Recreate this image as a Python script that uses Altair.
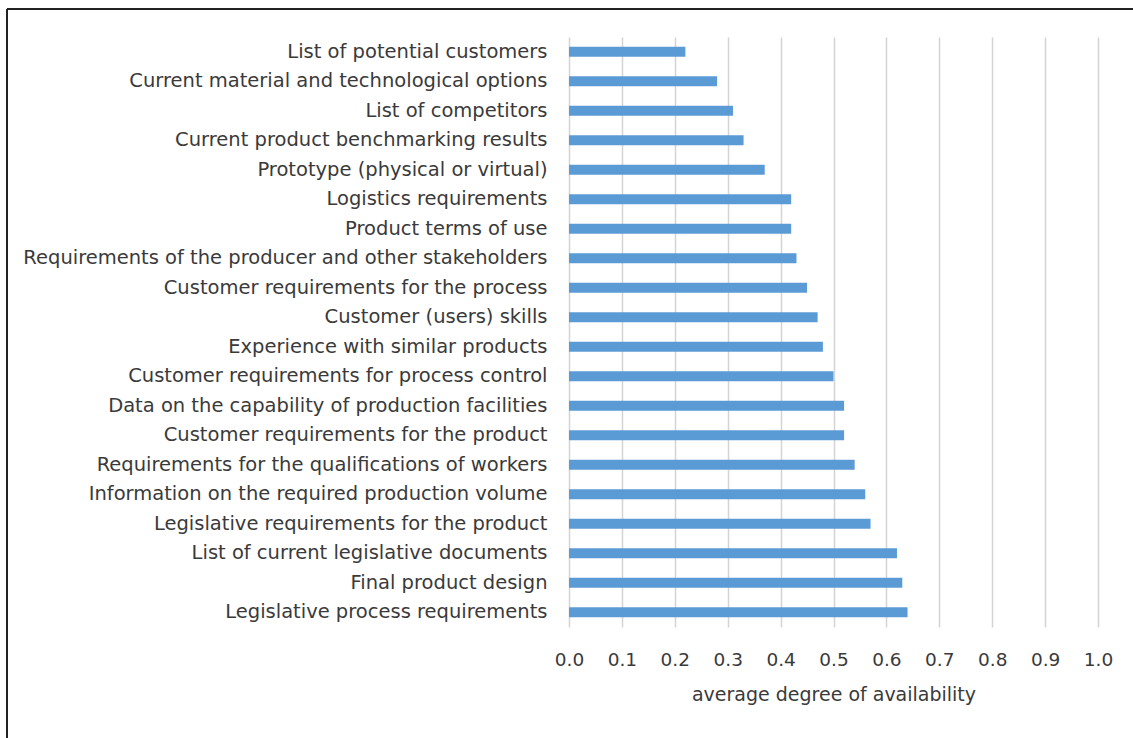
import altair as alt
import pandas as pd

categories = [
    "List of potential customers",
    "Current material and technological options",
    "List of competitors",
    "Current product benchmarking results",
    "Prototype (physical or virtual)",
    "Logistics requirements",
    "Product terms of use",
    "Requirements of the producer and other stakeholders",
    "Customer requirements for the process",
    "Customer (users) skills",
    "Experience with similar products",
    "Customer requirements for process control",
    "Data on the capability of production facilities",
    "Customer requirements for the product",
    "Requirements for the qualifications of workers",
    "Information on the required production volume",
    "Legislative requirements for the product",
    "List of current legislative documents",
    "Final product design",
    "Legislative process requirements",
]
values = [0.22, 0.28, 0.31, 0.33, 0.37, 0.42, 0.42, 0.43, 0.45, 0.47,
          0.48, 0.50, 0.52, 0.52, 0.54, 0.56, 0.57, 0.62, 0.63, 0.64]
x_ticks = [0.0, 0.1, 0.2, 0.3, 0.4, 0.5, 0.6, 0.7, 0.8, 0.9, 1.0]

df = pd.DataFrame({"item": categories, "value": values})

FONT = "DejaVu Sans"
TXT = "#3a3a3a"

bars = alt.Chart(df).mark_bar(size=10, color="#5B9BD5").encode(
    x=alt.X(
        "value:Q",
        scale=alt.Scale(domain=[0, 1], nice=False),
        axis=alt.Axis(
            values=x_ticks,
            format=".1f",
            title="average degree of availability",
            grid=True,
            gridColor="#d4d4d4",
            gridWidth=1.5,
            domain=False,
            ticks=False,
            labelFlush=False,
            labelOverlap=False,
            labelPadding=23,
            labelFontSize=18.5,
            labelColor=TXT,
            labelFont=FONT,
            titleFont=FONT,
            titleFontSize=19,
            titleFontWeight="normal",
            titleColor=TXT,
            titlePadding=17,
        ),
    ),
    y=alt.Y(
        "item:N",
        sort=categories,
        title=None,
        axis=alt.Axis(
            domain=False,
            ticks=False,
            grid=False,
            labelPadding=22,
            labelFontSize=19.5,
            labelColor=TXT,
            labelFont=FONT,
            labelLimit=0,
        ),
    ),
)

border_left = alt.Chart(df).mark_rule(color="#222222", strokeWidth=2).encode(
    x=alt.value(-562), y=alt.value(-28), y2=alt.value(705)
)
border_top = alt.Chart(df).mark_rule(color="#222222", strokeWidth=2).encode(
    x=alt.value(-562), x2=alt.value(600), y=alt.value(-28)
)

chart = (
    alt.layer(bars, border_left, border_top)
    .properties(
        width=529,
        height=590,
        autosize=alt.AutoSizeParams(type="none"),
        padding={"left": 569, "top": 37, "right": 35, "bottom": 111},
        background="white",
    )
    .configure_view(stroke=None)
)

chart.save("out.html", embed_options={"renderer": "svg", "actions": False})
